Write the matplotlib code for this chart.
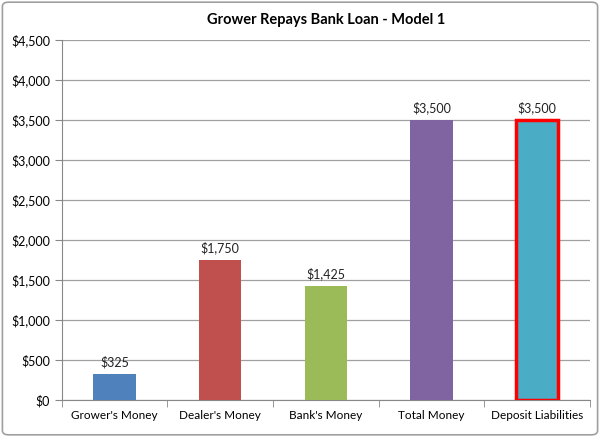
import matplotlib
matplotlib.use("Agg")
import matplotlib.pyplot as plt
from matplotlib.patches import FancyBboxPatch
from matplotlib.ticker import FuncFormatter, MultipleLocator

categories = ["Grower's Money", "Dealer's Money", "Bank's Money", "Total Money", "Deposit Liabilities"]
values = [325, 1750, 1425, 3500, 3500]
colors = ["#4F81BD", "#C0504D", "#9BBB59", "#8064A2", "#4BACC6"]

plt.rcParams['font.family'] = ['Lato', 'DejaVu Sans']

fig = plt.figure(figsize=(6, 4.37), dpi=100)
ax = fig.add_axes([0.103, 0.085, 0.88, 0.823])

x = range(len(categories))
bars = ax.bar(x, values, width=0.4, color=colors, zorder=3)
# last bar highlighted with red outline
bars[-1].set_edgecolor("#FF0000")
bars[-1].set_linewidth(2.5)

for xi, v in zip(x, values):
    ax.text(xi, v + 70, "${:,}".format(v), ha="center", va="bottom", fontsize=9, color="#222222")

ax.set_xlim(-0.5, len(categories) - 0.5)
ax.set_ylim(0, 4500)
ax.yaxis.set_major_locator(MultipleLocator(500))
ax.yaxis.set_major_formatter(FuncFormatter(lambda v, p: "${:,.0f}".format(v)))
ax.grid(axis="y", color="#A0A0A0", linewidth=0.9, zorder=0)

ax.set_xticks(list(x))
ax.set_xticklabels(categories, fontsize=8.5)
ax.tick_params(axis="x", length=0, pad=7)
ax.set_xticks([i + 0.5 for i in range(-1, len(categories))], minor=True)
ax.tick_params(axis="x", which="minor", length=5, color="#888888")
ax.tick_params(axis="y", length=5, color="#888888", labelsize=9)

for s in ["top", "right"]:
    ax.spines[s].set_visible(False)
for s in ["left", "bottom"]:
    ax.spines[s].set_color("#888888")

ax.set_title("Grower Repays Bank Loan - Model 1", fontsize=10.5, fontweight="bold", pad=12)

border = FancyBboxPatch((0.004, 0.005), 0.992, 0.99, boxstyle="round,pad=0,rounding_size=0.01",
                        transform=fig.transFigure, fill=False, edgecolor="#A0A0A0", linewidth=1.2)
fig.patches.append(border)

fig.savefig("out.png", dpi=100)
